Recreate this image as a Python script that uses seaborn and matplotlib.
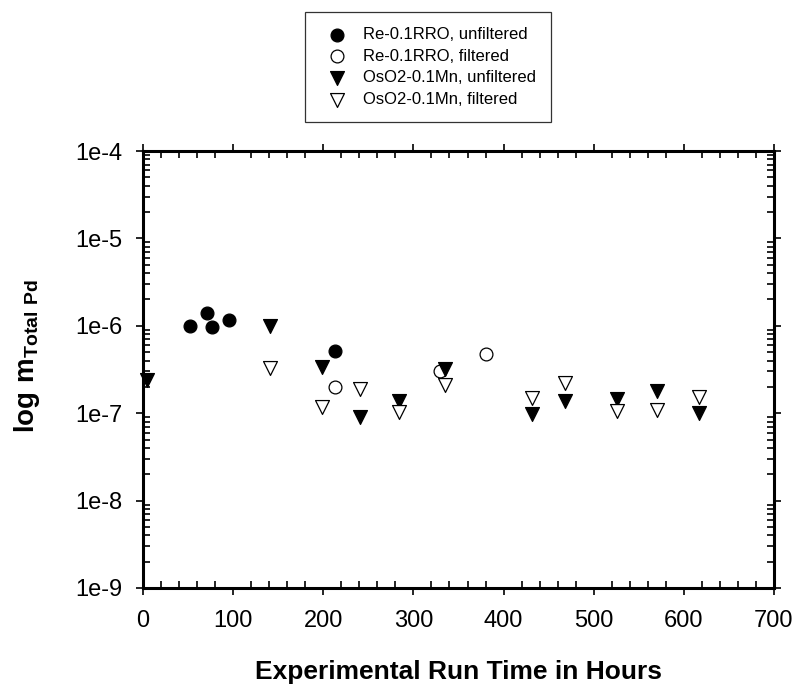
import numpy as np
import pandas as pd
import matplotlib
matplotlib.use("Agg")
import matplotlib.pyplot as plt
import seaborn as sns
from matplotlib.ticker import MultipleLocator, LogLocator, FixedLocator, FixedFormatter, NullFormatter

sns.set_theme(style="white")
plt.rcParams['font.family'] = ['Liberation Sans', 'DejaVu Sans']
plt.rcParams['mathtext.fontset'] = 'custom'
plt.rcParams['mathtext.rm'] = 'Liberation Sans'
plt.rcParams['mathtext.bf'] = 'Liberation Sans:bold'
plt.rcParams['text.color'] = 'black'
plt.rcParams['axes.labelcolor'] = 'black'
plt.rcParams['xtick.color'] = 'black'
plt.rcParams['ytick.color'] = 'black'

# Data
re_unf_hours = [52, 71, 76, 95, 213]
re_unf_vals = [1.0e-6, 1.41e-6, 0.96e-6, 1.16e-6, 5.1e-7]
re_fil_hours = [213, 330, 380]
re_fil_vals = [2.0e-7, 3.05e-7, 4.75e-7]
os_unf_hours = [4, 141, 199, 241, 284, 335, 432, 468, 526, 570, 617]
os_unf_vals = [2.4e-7, 1.0e-6, 3.35e-7, 0.9e-7, 1.38e-7, 3.2e-7, 0.98e-7, 1.37e-7, 1.45e-7, 1.8e-7, 1.0e-7]
os_fil_hours = [141, 199, 241, 284, 335, 432, 468, 526, 570, 617]
os_fil_vals = [3.3e-7, 1.19e-7, 1.88e-7, 1.04e-7, 2.1e-7, 1.5e-7, 2.2e-7, 1.07e-7, 1.09e-7, 1.55e-7]

labels = ["Re-0.1RRO, unfiltered", "Re-0.1RRO, filtered",
          "OsO2-0.1Mn, unfiltered", "OsO2-0.1Mn, filtered"]
y_ticks = [1e-9, 1e-8, 1e-7, 1e-6, 1e-5, 1e-4]
y_ticklabels = ["1e-9", "1e-8", "1e-7", "1e-6", "1e-5", "1e-4"]
x_ticks = [0, 100, 200, 300, 400, 500, 600, 700]

fig = plt.figure(figsize=(8, 6.88), dpi=100)
ax = fig.add_axes([143/800, 1 - 588/688, (774 - 143)/800, (588 - 151)/688])

series = [
    (re_unf_hours, re_unf_vals, "o", "black", 85),
    (re_fil_hours, re_fil_vals, "o", "white", 85),
    (os_unf_hours, os_unf_vals, "v", "black", 100),
    (os_fil_hours, os_fil_vals, "v", "white", 100),
]
for (h, v, m, fc, s), lab in zip(series, labels):
    df = pd.DataFrame({"hours": h, "val": v})
    sns.scatterplot(data=df, x="hours", y="val", marker=m, s=s, color=fc,
                    edgecolor="black", linewidth=0.9, ax=ax, label=lab,
                    zorder=3, clip_on=False)

ax.set_yscale("log")
ax.set_xlim(0, 700)
ax.set_ylim(1e-9, 1e-4)
ax.xaxis.set_major_locator(FixedLocator(x_ticks))
ax.xaxis.set_minor_locator(MultipleLocator(20))
ax.yaxis.set_major_locator(FixedLocator(y_ticks))
ax.yaxis.set_major_formatter(FixedFormatter(y_ticklabels))
ax.yaxis.set_minor_locator(LogLocator(base=10, subs=np.arange(2, 10)))
ax.yaxis.set_minor_formatter(NullFormatter())

for sp in ax.spines.values():
    sp.set_visible(True)
    sp.set_color("black")
    sp.set_linewidth(2.2)

ax.tick_params(which="major", direction="out", length=5, width=1.2,
               labelsize=17, pad=11, colors="black",
               top=True, right=True, bottom=True, left=True)
ax.tick_params(which="minor", direction="in", length=5, width=1.2,
               top=True, right=True, bottom=True, left=True, colors="black")
ax.tick_params(axis="y", which="major", pad=10)

ax.set_xlabel("Experimental Run Time in Hours", fontsize=19, fontweight="bold",
              labelpad=20, color="black")
ax.set_ylabel(r"$\mathbf{log\ m}_{\mathbf{Total\ Pd}}$", fontsize=20, color="black")
ax.yaxis.set_label_coords(-0.16, 0.53)

ax.get_legend().remove()
handles, labs = ax.get_legend_handles_labels()
leg = fig.legend(handles, labs, loc="upper left",
                 bbox_to_anchor=(305/800, 1 - 12/688), frameon=True,
                 fancybox=False, edgecolor="black", fontsize=12,
                 handletextpad=0.6, labelspacing=0.4, borderpad=0.9,
                 borderaxespad=0, markerscale=1.0, labelcolor="black")
leg.get_frame().set_linewidth(0.9)

ax.set_facecolor("white")
fig.patch.set_facecolor("white")
fig.savefig("out.png", dpi=100)
